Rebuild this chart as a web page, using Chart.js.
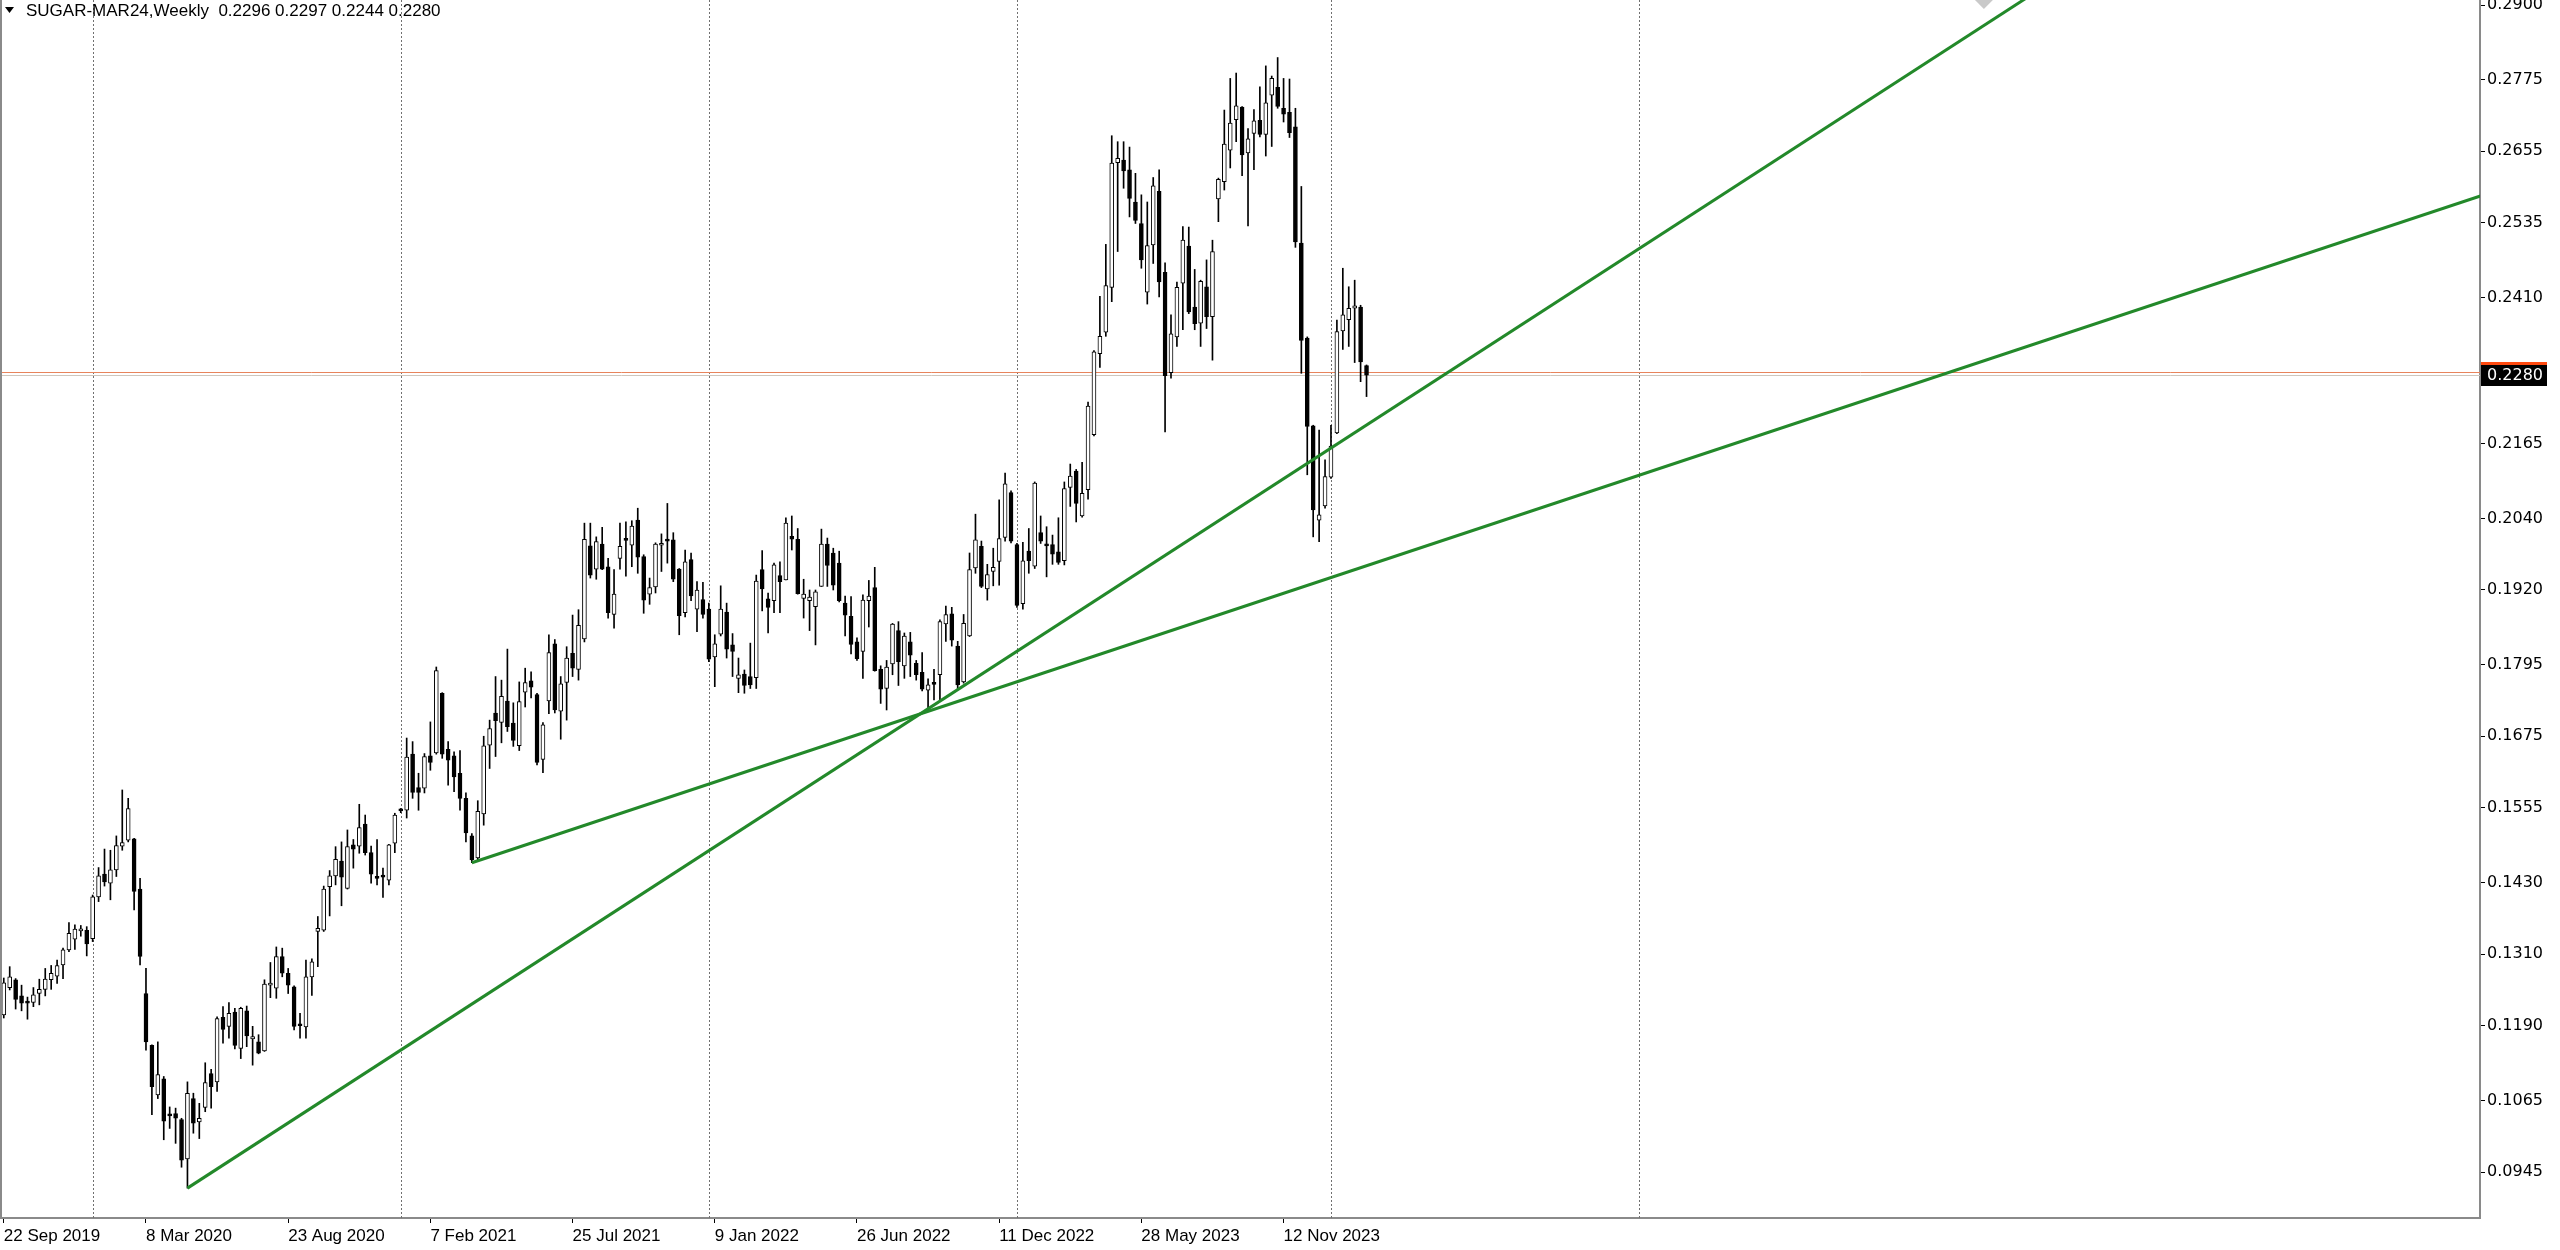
<!DOCTYPE html>
<html><head><meta charset="utf-8">
<script src="https://cdn.jsdelivr.net/npm/chart.js@4/dist/chart.umd.min.js"></script>
<style>html,body{margin:0;padding:0;background:#fff;overflow:hidden}canvas{display:block}</style>
</head><body>
<canvas id="c" width="2560" height="1250"></canvas>
<script>
// ---------- data ----------
const symbolTitle = 'SUGAR-MAR24,Weekly';
const lastOHLC = ['0.2296', '0.2297', '0.2244', '0.2280'];

const xTickIdx = [0, 24, 48, 72, 96, 120, 144, 168, 192, 216];
const xTickLabels = ['22 Sep 2019', '8 Mar 2020', '23 Aug 2020', '7 Feb 2021', '25 Jul 2021',
  '9 Jan 2022', '26 Jun 2022', '11 Dec 2022', '28 May 2023', '12 Nov 2023'];
const yTickValues = [0.2900, 0.2775, 0.2655, 0.2535, 0.2410, 0.2165, 0.2040, 0.1920,
  0.1795, 0.1675, 0.1555, 0.1430, 0.1310, 0.1190, 0.1065, 0.0945];
const yearLineIdx = [15, 67, 119, 171, 224, 276];

const openP = [
0.1208,0.1254,0.1267,0.1240,0.1229,0.1229,0.1244,0.1251,0.1267,0.1273,
0.1292,0.1317,0.1335,0.1349,0.1350,0.1336,0.1406,0.1444,0.1429,0.1451,
0.1491,0.1501,0.1503,0.1419,0.1244,0.1157,0.1074,0.1101,0.1042,0.1043,
0.1033,0.0967,0.1068,0.1029,0.1053,0.1110,0.1096,0.1204,0.1189,0.1213,
0.1152,0.1215,0.1168,0.1163,0.1148,0.1258,0.1253,0.1306,0.1278,0.1255,
0.1193,0.1188,0.1272,0.1348,0.1350,0.1423,0.1441,0.1466,0.1420,0.1493,
0.1491,0.1528,0.1480,0.1439,0.1441,0.1434,0.1496,0.1551,0.1551,0.1645,
0.1589,0.1588,0.1642,0.1647,0.1747,0.1653,0.1642,0.1613,0.1571,0.1508,
0.1471,0.1545,0.1660,0.1714,0.1698,0.1734,0.1697,0.1659,0.1749,0.1768,
0.1745,0.1636,0.1734,0.1830,0.1717,0.1765,0.1814,0.1787,0.1838,0.1994,
0.1955,0.1997,0.1959,0.1879,0.1973,0.2006,0.1995,0.2037,0.1976,0.1913,
0.1925,0.1995,0.2005,0.2004,0.1955,0.1882,0.1971,0.1888,0.1904,0.1888,
0.1808,0.1846,0.1883,0.1828,0.1772,0.1779,0.1775,0.1773,0.1954,0.1905,
0.1902,0.1944,0.1937,0.2010,0.2005,0.1906,0.1902,0.1892,0.1926,0.1997,
0.1982,0.1965,0.1898,0.1876,0.1833,0.1817,0.1902,0.1924,0.1787,0.1755,
0.1796,0.1852,0.1793,0.1833,0.1797,0.1782,0.1752,0.1763,0.1778,0.1863,
0.1880,0.1826,0.1766,0.1843,0.1957,0.1993,0.1922,0.1951,0.1968,0.2008,
0.2083,0.1996,0.1897,0.1985,0.1960,0.2016,0.1995,0.1996,0.1984,0.1969,
0.2092,0.2119,0.2044,0.2088,0.2180,0.2316,0.2352,0.2427,0.2636,0.2640,
0.2624,0.2570,0.2534,0.2419,0.2498,0.2588,0.2452,0.2284,0.2344,0.2434,
0.2496,0.2394,0.2367,0.2428,0.2378,0.2575,0.2604,0.2657,0.2708,0.2729,
0.2652,0.2685,0.2707,0.2683,0.2749,0.2762,0.2727,0.2720,0.2696,0.2501,
0.2342,0.2195,0.2037,0.2061,0.2109,0.2183,0.2354,0.2373,0.2392,0.2394,0.2296];

const highP = [
0.1270,0.1289,0.1269,0.1258,0.1238,0.1254,0.1268,0.1286,0.1291,0.1300,
0.1320,0.1363,0.1359,0.1358,0.1356,0.1409,0.1455,0.1486,0.1484,0.1508,
0.1585,0.1571,0.1504,0.1437,0.1286,0.1158,0.1163,0.1105,0.1054,0.1052,
0.1035,0.1096,0.1077,0.1060,0.1128,0.1117,0.1205,0.1222,0.1229,0.1219,
0.1221,0.1223,0.1189,0.1175,0.1267,0.1296,0.1322,0.1320,0.1286,0.1257,
0.1211,0.1300,0.1302,0.1373,0.1424,0.1450,0.1490,0.1498,0.1518,0.1502,
0.1561,0.1543,0.1491,0.1502,0.1454,0.1494,0.1546,0.1554,0.1672,0.1666,
0.1613,0.1646,0.1699,0.1791,0.1748,0.1666,0.1649,0.1651,0.1580,0.1512,
0.1567,0.1675,0.1702,0.1775,0.1769,0.1821,0.1731,0.1766,0.1789,0.1783,
0.1747,0.1698,0.1845,0.1837,0.1775,0.1825,0.1878,0.1887,0.2032,0.2032,
0.2009,0.2025,0.1973,0.1954,0.2032,0.2034,0.2036,0.2057,0.1979,0.1940,
0.1999,0.2014,0.2065,0.2016,0.1956,0.1987,0.1982,0.1934,0.1933,0.1898,
0.1845,0.1927,0.1898,0.1847,0.1806,0.1786,0.1831,0.1945,0.1986,0.1915,
0.1965,0.1967,0.2041,0.2044,0.2023,0.1938,0.1920,0.1920,0.2022,0.2007,
0.1990,0.1985,0.1910,0.1909,0.1840,0.1912,0.1936,0.1958,0.1793,0.1802,
0.1864,0.1867,0.1848,0.1849,0.1802,0.1815,0.1771,0.1787,0.1870,0.1893,
0.1891,0.1834,0.1879,0.1982,0.2047,0.2002,0.1963,0.1990,0.2071,0.2116,
0.2086,0.1998,0.2000,0.2023,0.2101,0.2044,0.2026,0.2012,0.2041,0.2101,
0.2131,0.2122,0.2134,0.2235,0.2321,0.2412,0.2499,0.2681,0.2671,0.2671,
0.2662,0.2618,0.2582,0.2570,0.2611,0.2624,0.2468,0.2381,0.2436,0.2529,
0.2528,0.2457,0.2439,0.2473,0.2506,0.2610,0.2724,0.2777,0.2786,0.2730,
0.2693,0.2725,0.2763,0.2798,0.2781,0.2812,0.2777,0.2776,0.2727,0.2596,
0.2344,0.2196,0.2188,0.2138,0.2196,0.2372,0.2459,0.2428,0.2439,0.2397,0.2297];

const lowP = [
0.1203,0.1250,0.1218,0.1215,0.1201,0.1222,0.1225,0.1240,0.1251,0.1261,
0.1269,0.1314,0.1318,0.1340,0.1307,0.1331,0.1398,0.1424,0.1401,0.1440,
0.1484,0.1498,0.1384,0.1292,0.1149,0.1041,0.1068,0.0999,0.1018,0.0993,
0.0953,0.0918,0.1010,0.1001,0.1046,0.1052,0.1080,0.1161,0.1169,0.1151,
0.1135,0.1155,0.1124,0.1143,0.1147,0.1237,0.1236,0.1272,0.1244,0.1183,
0.1169,0.1169,0.1241,0.1289,0.1348,0.1374,0.1426,0.1391,0.1419,0.1454,
0.1479,0.1476,0.1429,0.1426,0.1405,0.1426,0.1480,0.1547,0.1538,0.1571,
0.1551,0.1580,0.1618,0.1645,0.1638,0.1593,0.1582,0.1551,0.1498,0.1463,
0.1468,0.1526,0.1621,0.1641,0.1664,0.1683,0.1658,0.1651,0.1724,0.1739,
0.1627,0.1614,0.1713,0.1714,0.1670,0.1702,0.1775,0.1769,0.1833,0.1940,
0.1938,0.1954,0.1873,0.1856,0.1955,0.1943,0.1959,0.1948,0.1881,0.1896,
0.1915,0.1951,0.1965,0.1934,0.1845,0.1875,0.1902,0.1850,0.1873,0.1800,
0.1758,0.1843,0.1806,0.1775,0.1748,0.1747,0.1755,0.1755,0.1885,0.1848,
0.1882,0.1882,0.1937,0.1987,0.1913,0.1873,0.1852,0.1828,0.1926,0.1926,
0.1920,0.1900,0.1843,0.1813,0.1802,0.1772,0.1858,0.1784,0.1730,0.1719,
0.1778,0.1760,0.1772,0.1775,0.1769,0.1751,0.1718,0.1736,0.1736,0.1834,
0.1826,0.1754,0.1764,0.1842,0.1948,0.1924,0.1903,0.1927,0.1928,0.2002,
0.1999,0.1891,0.1888,0.1948,0.1956,0.1998,0.1942,0.1963,0.1963,0.1962,
0.2060,0.2034,0.2042,0.2072,0.2178,0.2293,0.2345,0.2403,0.2487,0.2593,
0.2545,0.2534,0.2459,0.2399,0.2467,0.2411,0.2185,0.2275,0.2328,0.2356,
0.2383,0.2356,0.2328,0.2358,0.2305,0.2537,0.2590,0.2627,0.2671,0.2614,
0.2530,0.2624,0.2679,0.2647,0.2663,0.2727,0.2704,0.2678,0.2494,0.2283,
0.2113,0.2009,0.2001,0.2057,0.2107,0.2182,0.2323,0.2328,0.2301,0.2269,0.2244];

const closeP = [
0.1262,0.1272,0.1234,0.1228,0.1228,0.1242,0.1251,0.1268,0.1278,0.1291,
0.1317,0.1345,0.1352,0.1350,0.1327,0.1406,0.1441,0.1431,0.1451,0.1492,
0.1497,0.1554,0.1415,0.1306,0.1163,0.1088,0.1108,0.1030,0.1039,0.1035,
0.0965,0.1077,0.1027,0.1035,0.1095,0.1088,0.1202,0.1184,0.1211,0.1157,
0.1219,0.1173,0.1172,0.1144,0.1260,0.1259,0.1306,0.1278,0.1258,0.1189,
0.1190,0.1272,0.1297,0.1353,0.1419,0.1441,0.1469,0.1439,0.1490,0.1486,
0.1522,0.1480,0.1444,0.1437,0.1439,0.1493,0.1543,0.1550,0.1640,0.1581,
0.1581,0.1641,0.1631,0.1785,0.1645,0.1635,0.1607,0.1571,0.1513,0.1468,
0.1549,0.1659,0.1688,0.1701,0.1742,0.1691,0.1668,0.1733,0.1765,0.1757,
0.1631,0.1694,0.1815,0.1719,0.1763,0.1806,0.1789,0.1861,0.2005,0.1945,
0.2001,0.1955,0.1882,0.1913,0.1993,0.2003,0.2027,0.1975,0.1903,0.1924,
0.1997,0.1998,0.2002,0.1938,0.1877,0.1967,0.1910,0.1920,0.1879,0.1804,
0.1830,0.1888,0.1821,0.1817,0.1778,0.1760,0.1761,0.1935,0.1922,0.1891,
0.1962,0.1934,0.2032,0.2005,0.1914,0.1913,0.1908,0.1917,0.1997,0.1961,
0.1928,0.1902,0.1878,0.1829,0.1805,0.1903,0.1910,0.1785,0.1754,0.1791,
0.1863,0.1800,0.1843,0.1811,0.1778,0.1754,0.1761,0.1762,0.1867,0.1879,
0.1836,0.1761,0.1864,0.1954,0.2004,0.1926,0.1946,0.1958,0.2006,0.2098,
0.2002,0.1894,0.1969,0.1969,0.2099,0.2002,0.1994,0.1980,0.1966,0.2090,
0.2111,0.2065,0.2082,0.2228,0.2319,0.2345,0.2430,0.2635,0.2643,0.2622,
0.2576,0.2539,0.2473,0.2497,0.2597,0.2436,0.2279,0.2349,0.2427,0.2506,
0.2386,0.2366,0.2437,0.2378,0.2487,0.2608,0.2667,0.2702,0.2731,0.2649,
0.2676,0.2706,0.2683,0.2736,0.2777,0.2730,0.2717,0.2686,0.2503,0.2338,
0.2194,0.2054,0.2046,0.2110,0.2161,0.2353,0.2381,0.2392,0.2396,0.2302,0.2280];

const trendA = [{x: 31, y: 0.0918}, {x: 418, y: 0.3404}];
const trendB = [{x: 79, y: 0.1463}, {x: 418, y: 0.2580}];
const markerPoint = [{x: 334.2, y: 0.29084}];
const bidPrice = 0.2280;
const askPrice = 0.2285;
const xRange = [-0.30, 417.93];
const yRange = [0.086794, 0.290838];

// ---------- build library tables ----------
const wickData = openP.map((o, i) => ({x: i, y: [lowP[i], highP[i]]}));
const bodyData = openP.map((o, i) => ({x: i, y: [Math.min(o, closeP[i]), Math.max(o, closeP[i])]}));
const bodyColors = openP.map((o, i) => closeP[i] >= o ? '#ffffff' : '#000000');

const FONT = '"Liberation Sans", Arial, sans-serif';
const YFONT = '"DejaVu Sans", Verdana, sans-serif';

const decor = {
  id: 'decor',
  beforeDraw(chart) {
    const c = chart.ctx;
    c.save(); c.fillStyle = '#ffffff'; c.fillRect(0, 0, chart.width, chart.height); c.restore();
  },
  beforeDatasetsDraw(chart) {
    const {ctx, chartArea: a, scales: {x, y}} = chart;
    ctx.save();
    ctx.beginPath(); ctx.rect(a.left, a.top, a.right - a.left, a.bottom - a.top); ctx.clip();
    ctx.lineWidth = 1;
    ctx.strokeStyle = '#707070';
    ctx.setLineDash([2, 2]);
    yearLineIdx.forEach(v => {
      const px = Math.round(x.getPixelForValue(v)) + 0.5;
      ctx.beginPath(); ctx.moveTo(px, a.top); ctx.lineTo(px, a.bottom); ctx.stroke();
    });
    ctx.setLineDash([]);
    const ya = Math.round(y.getPixelForValue(askPrice)) + 0.5;
    ctx.strokeStyle = '#e8845c';
    ctx.beginPath(); ctx.moveTo(a.left, ya); ctx.lineTo(a.right, ya); ctx.stroke();
    const yb = Math.round(y.getPixelForValue(bidPrice)) + 0.5;
    ctx.strokeStyle = '#cfc6bd';
    ctx.beginPath(); ctx.moveTo(a.left, yb); ctx.lineTo(a.right, yb); ctx.stroke();
    ctx.restore();
  },
  afterDraw(chart) {
    const {ctx, chartArea: a, scales: {y}} = chart;
    ctx.save();
    ctx.fillStyle = '#8a8a8a';
    ctx.fillRect(0, 0, 2, a.bottom + 1);
    const ya = y.getPixelForValue(askPrice), yb = y.getPixelForValue(bidPrice);
    const bx = a.right + 1, bw = 66, bh = 21;
    ctx.fillStyle = '#ff4a10';
    ctx.fillRect(bx, Math.round(ya - bh / 2), bw, bh);
    ctx.fillStyle = '#000000';
    ctx.fillRect(bx, Math.round(yb - bh / 2), bw, bh);
    ctx.fillStyle = '#ffffff';
    ctx.font = '16px ' + YFONT;
    ctx.textBaseline = 'middle'; ctx.textAlign = 'left';
    ctx.fillText(bidPrice.toFixed(4), a.right + 7, yb + 1);
    ctx.fillStyle = '#000000';
    ctx.beginPath(); ctx.moveTo(5, 7); ctx.lineTo(14, 7); ctx.lineTo(9.5, 13); ctx.closePath(); ctx.fill();
    ctx.font = '17px ' + FONT;
    ctx.fillText(symbolTitle + '  ' + lastOHLC.join(' '), 26, 11);
    ctx.restore();
  }
};

Chart.defaults.font.family = FONT;
new Chart(document.getElementById('c'), {
  type: 'bar',
  data: {
    datasets: [
      {type: 'bar', data: wickData, backgroundColor: '#000000', borderWidth: 0,
        barThickness: 1, grouped: false, order: 3},
      {type: 'bar', data: bodyData, backgroundColor: bodyColors, borderColor: '#000000',
        borderWidth: 1, borderSkipped: false, barThickness: 4, minBarLength: 2, grouped: false, order: 2},
      {type: 'line', data: trendA, borderColor: '#23892a', borderWidth: 3, pointRadius: 0, order: 1},
      {type: 'line', data: trendB, borderColor: '#23892a', borderWidth: 3, pointRadius: 0, order: 1},
      {type: 'scatter', data: markerPoint, pointStyle: 'rectRot', pointRadius: 9,
        backgroundColor: '#c9c9c9', borderWidth: 0, order: 0}
    ]
  },
  options: {
    responsive: false, animation: false, devicePixelRatio: 1, events: [],
    layout: {autoPadding: false, padding: {left: 2, top: 0, right: 0, bottom: 0}},
    plugins: {legend: {display: false}, tooltip: {enabled: false}, title: {display: false}},
    scales: {
      x: {
        type: 'linear', min: xRange[0], max: xRange[1], offset: false,
        afterBuildTicks: s => { s.ticks = xTickIdx.map(v => ({value: v})); },
        afterFit: s => { s.height = 32; s.paddingLeft = 0; s.paddingRight = 0; },
        ticks: {autoSkip: false, maxRotation: 0, minRotation: 0, align: 'start', padding: 3,
          color: '#000000', font: {size: 17, family: FONT},
          callback: (v, i) => xTickLabels[i]},
        grid: {drawOnChartArea: false, offset: false, tickLength: 5, color: '#000000', tickWidth: 1},
        border: {display: true, color: '#8a8a8a', width: 2}
      },
      y: {
        position: 'right', min: yRange[0], max: yRange[1],
        afterBuildTicks: s => { s.ticks = yTickValues.map(v => ({value: v})); },
        afterFit: s => { s.width = 80; s.paddingTop = 0; s.paddingBottom = 0; },
        ticks: {autoSkip: false, padding: 2, color: '#000000', font: {size: 16, family: YFONT},
          callback: v => v.toFixed(4)},
        grid: {drawOnChartArea: false, tickLength: 5, color: '#000000', tickWidth: 1},
        border: {display: true, color: '#8a8a8a', width: 2}
      }
    }
  },
  plugins: [decor]
});
</script>
</body></html>
